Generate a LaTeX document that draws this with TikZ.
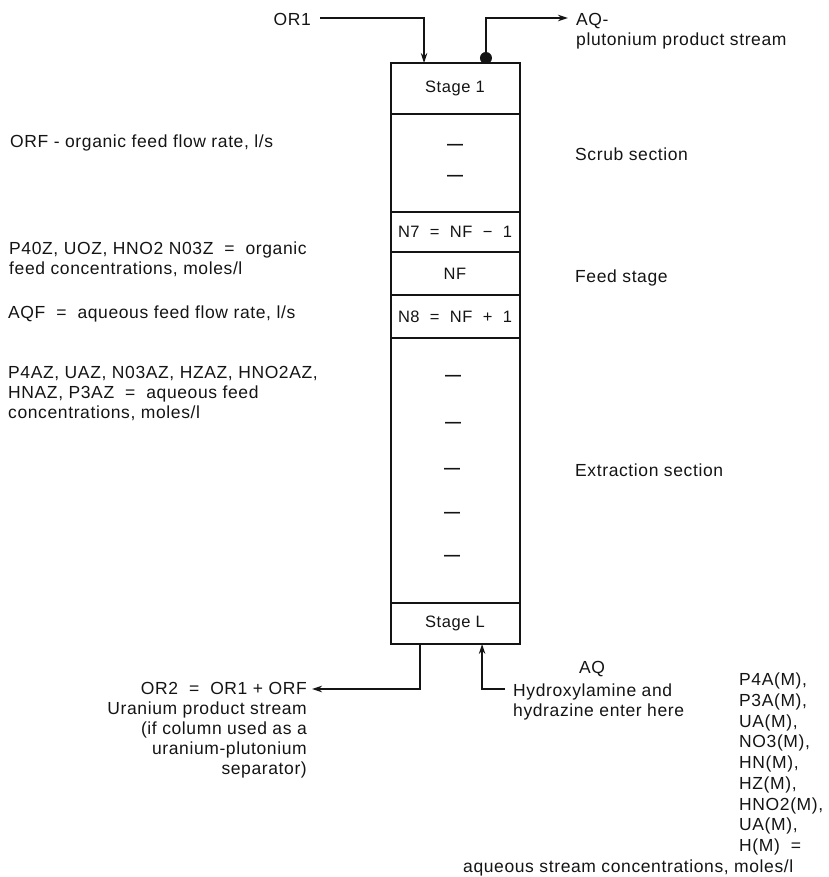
\documentclass[tikz,border=0pt]{standalone}
\usepackage{fontspec}
\setmainfont[LetterSpace=3.5]{Liberation Sans}
\usepackage{xcolor}
\usetikzlibrary{arrows.meta,positioning,calc}
\definecolor{ink}{gray}{0.08}
\begin{document}
\begin{tikzpicture}[
  x=1pt, y=-1pt, font=\fontsize{17.5}{20}\selectfont, text=ink, draw=ink,
  >={Stealth[length=10pt,width=6.5pt]},
  stage/.style={draw=ink, line width=2pt, minimum width=129pt, outer sep=0pt, inner sep=0pt, align=center, font=\fontsize{16.5}{20}\selectfont},
  lab/.style={align=left, inner sep=0pt, anchor=west},
  rlab/.style={align=right, inner sep=0pt, anchor=east},
  tick/.style={inner sep=0pt, font=\fontsize{16}{16}\selectfont\bfseries},
  flow/.style={line width=1.4pt}]
\useasboundingbox (0,0) rectangle (828,877);
\node[stage, minimum height=51pt] (s1) at (455,88.5) {Stage 1};
\node[stage, minimum height=98pt, below=0pt of s1] (scrub) {};
\node[stage, minimum height=40pt, below=0pt of scrub] (n7) {N7 ~=~ NF ~−~ 1};
\node[stage, minimum height=43pt, below=0pt of n7] (nf) {NF};
\node[stage, minimum height=43pt, below=0pt of nf] (n8) {N8 ~=~ NF ~+~ 1};
\node[stage, minimum height=265pt, below=0pt of n8] (extr) {};
\node[stage, minimum height=41pt, below=0pt of extr] (sl) {Stage L};
% dashes inside the sections
\node[tick] (d1) at (455,147) {—};
\node[tick] (d2) at (455,178) {—};
\node[tick] (d3) at (453,378) {—};
\node[tick] (d4) at (453,425) {—};
\node[tick] (d5) at (452,471) {—};
\node[tick] (d6) at (452,515) {—};
\node[tick] (d7) at (452,558) {—};
% streams
\node[rlab] (or1) at (311,19) {OR1};
\node[lab, anchor=north west] (aq) at (576,13) {AQ-\\plutonium product stream};
\node[rlab, anchor=north east] (or2) at (307,682) {OR2 ~=~ OR1 + ORF\\Uranium product stream\\(if column used as a\\uranium-plutonium\\separator)};
\node[lab, anchor=north] (aqin) at (592,661) {AQ};
\node[lab, anchor=north west] (hyd) at (513,684) {Hydroxylamine and\\hydrazine enter here};
\coordinate (in1) at ($(s1.north west)!0.26!(s1.north east)$);
\coordinate (out1) at ($(s1.north west)!0.74!(s1.north east)$);
\coordinate (out2) at ($(sl.south west)!0.23!(sl.south east)$);
\coordinate (in2) at ($(sl.south west)!0.71!(sl.south east)$);
\coordinate (or2end) at ($(or2.north east)+(5,7)$);
\draw[->, flow] (or1.east) ++(9,-1) -| (in1);
\draw[->, flow] (out1) -- ++(0,-45) -- ($(aq.north west)+(-8,5)$);
\fill[ink] ($(out1)+(0,-5)$) circle (6pt);
\draw[->, flow] (out2) |- (or2end);
\draw[->, flow] ($(hyd.north west)+(-8,5)$) -| (in2);
% section names
\node[lab] (scr) at (575,154) {Scrub section};
\node[lab] (fee) at (575,278) {Feed stage};
\node[lab] (ext) at (575,470) {Extraction section};
% left notes
\node[lab] (orf) at (10,143) {ORF - organic feed flow rate, l/s};
\node[lab] (oc) at (9,259) {P40Z, UOZ, HNO2 N03Z ~=~ organic\\feed concentrations, moles/l};
\node[lab] (aqf) at (8,314) {AQF ~=~ aqueous feed flow rate, l/s};
\node[lab] (ac) at (8,394) {P4AZ, UAZ, N03AZ, HZAZ, HNO2AZ,\\HNAZ, P3AZ ~=~ aqueous feed\\concentrations, moles/l};
% stream concentrations
\node[lab, anchor=north west, font=\fontsize{17.5}{20.7}\selectfont] (conc) at (739,673) {P4A(M),\\P3A(M),\\UA(M),\\NO3(M),\\HN(M),\\HZ(M),\\HNO2(M),\\UA(M),\\H(M) ~=};
\node[lab] (cnote) at (463,868) {aqueous stream concentrations, moles/l};
\end{tikzpicture}
\end{document}
